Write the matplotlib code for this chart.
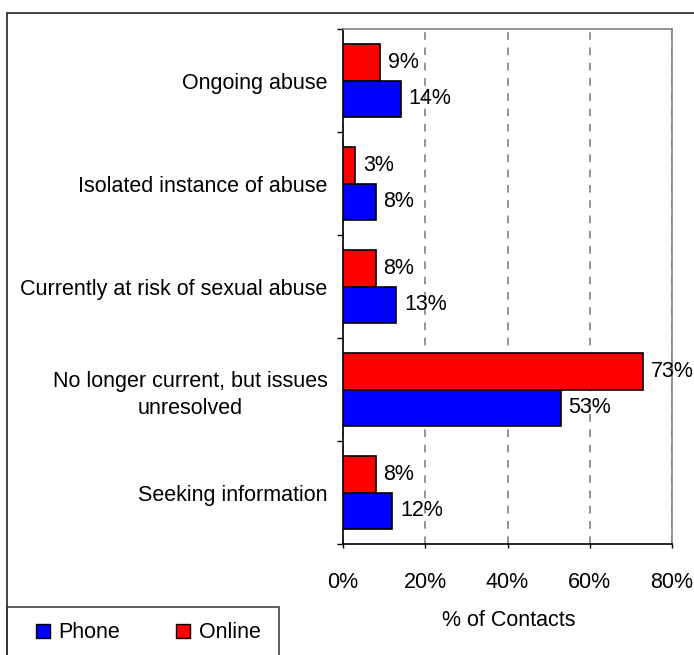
import matplotlib.pyplot as plt
import matplotlib.patches as mpatches
import numpy as np

plt.rcParams['font.family'] = ['Liberation Sans', 'DejaVu Sans']

# data (top to bottom)
categories = ['Ongoing abuse', 'Isolated instance of abuse',
              'Currently at risk of sexual abuse',
              'No longer current, but issues\nunresolved',
              'Seeking information']
online = [9, 3, 8, 73, 8]
phone = [14, 8, 13, 53, 12]
xticks = [0, 20, 40, 60, 80]

fs = 15.5

fig = plt.figure(figsize=(6.94, 6.55), dpi=100)
ax = fig.add_axes([343/694, 1 - 544/655, (672 - 343)/694, (544 - 29)/655])

y = np.arange(len(categories))
h = 0.35
ax.barh(y - h/2, online, height=h, color='#ff0000', edgecolor='black', linewidth=1.2, zorder=3)
ax.barh(y + h/2, phone, height=h, color='#0000ff', edgecolor='black', linewidth=1.2, zorder=3)

for i in range(len(categories)):
    ax.annotate('%d%%' % online[i], (online[i], y[i] - h/2), xytext=(5.5, 0),
                textcoords='offset points', va='center', ha='left', fontsize=fs, zorder=4)
    ax.annotate('%d%%' % phone[i], (phone[i], y[i] + h/2), xytext=(5.5, 0),
                textcoords='offset points', va='center', ha='left', fontsize=fs, zorder=4)

ax.set_xlim(0, 80)
ax.set_ylim(len(categories) - 0.5, -0.5)
ax.set_xticks(xticks)
ax.set_xticklabels(['%d%%' % t for t in xticks], fontsize=fs)
ax.tick_params(axis='x', direction='out', length=3, pad=17, width=1)

# y ticks: marks between groups, labels at group centres
ax.set_yticks(np.arange(-0.5, len(categories), 1.0))
ax.set_yticklabels([])
ax.tick_params(axis='y', which='major', direction='out', length=4, width=1)
ax.set_yticks(y, minor=True)
ax.set_yticklabels(categories, minor=True, fontsize=fs, multialignment='center',
                   linespacing=1.35)
ax.tick_params(axis='y', which='minor', length=0, pad=11)

ax.grid(axis='x', linestyle=(0, (5, 5)), color='#777777', linewidth=1.1, zorder=0)
for s in ['top', 'right']:
    ax.spines[s].set_color('#808080')
    ax.spines[s].set_linewidth(1.2)
for s in ['left', 'bottom']:
    ax.spines[s].set_color('black')
    ax.spines[s].set_linewidth(1.2)

# outer frame
fig.patches.append(mpatches.Rectangle((7/694, -0.1), 1.2, 1 - 13/655 + 0.1,
                                      transform=fig.transFigure, fill=False,
                                      edgecolor='#333333', linewidth=1.3))
# legend box
fig.patches.append(mpatches.Rectangle((7/694, -0.1), (279 - 7)/694, 1 - 607/655 + 0.1,
                                      transform=fig.transFigure, fill=False,
                                      edgecolor='#333333', linewidth=1.1))

handles = [mpatches.Patch(facecolor='#0000ff', edgecolor='black', label='Phone'),
           mpatches.Patch(facecolor='#ff0000', edgecolor='black', label='Online')]
fig.legend(handles=handles, loc='center', bbox_to_anchor=(148/694, 1 - 633/655),
           ncol=2, frameon=False, fontsize=fs, handlelength=0.65, handleheight=0.65,
           handletextpad=0.4, columnspacing=2.6, borderpad=0, borderaxespad=0)

fig.text(509/694, 1 - 621/655, '% of Contacts', ha='center', va='center', fontsize=fs)

plt.savefig('out.png', dpi=100)
